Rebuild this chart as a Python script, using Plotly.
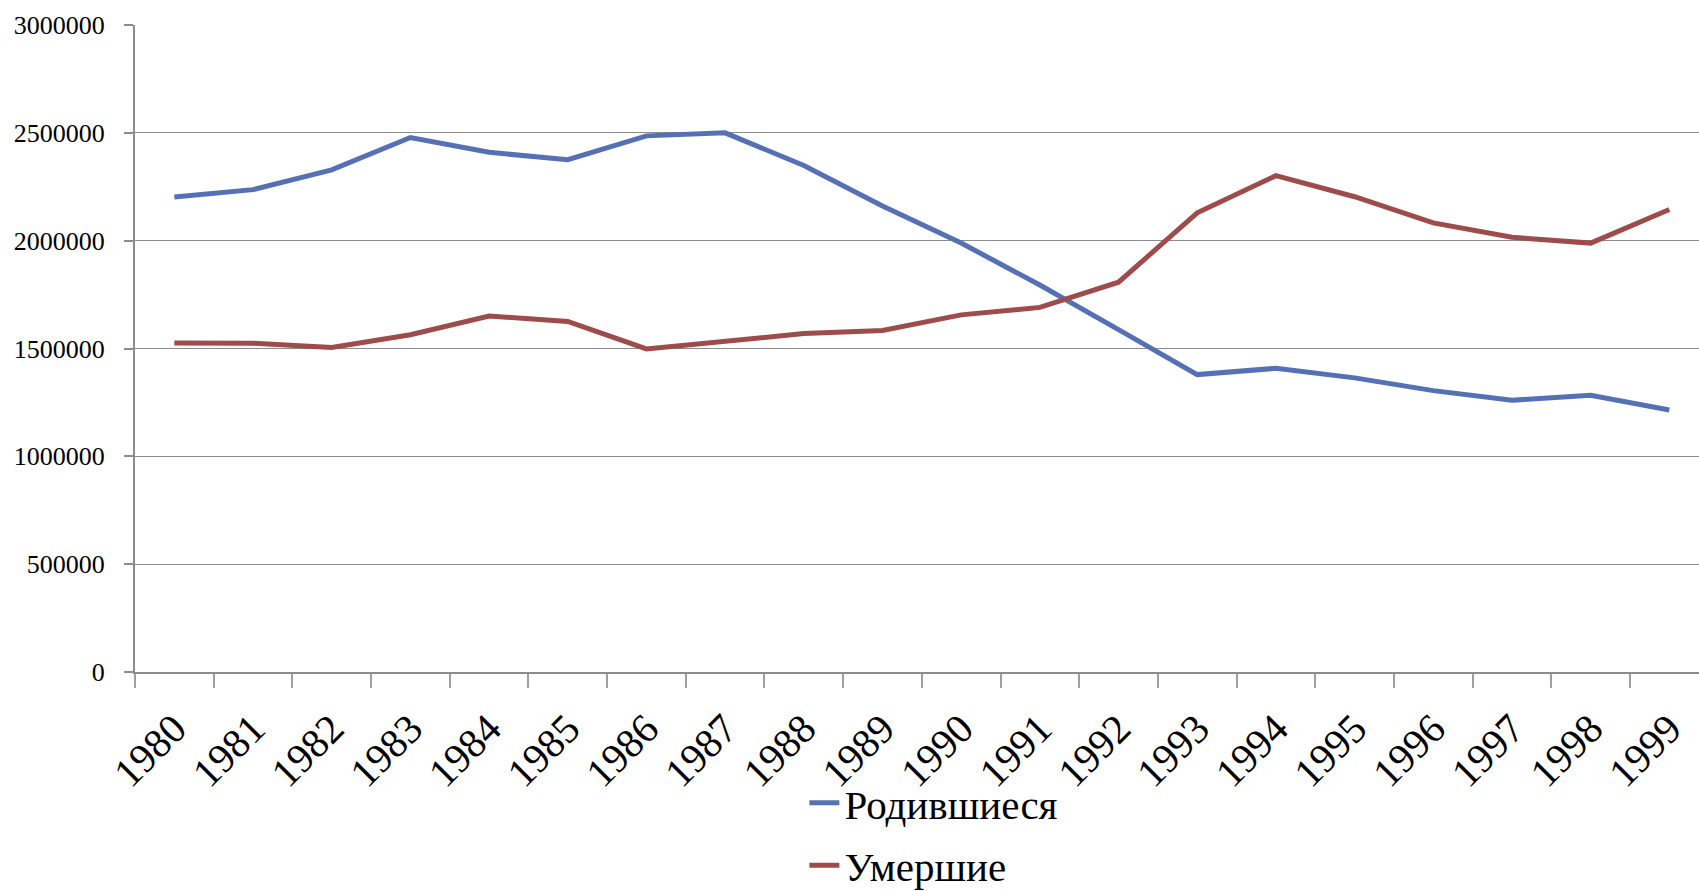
import plotly.graph_objects as go

years = [str(y) for y in range(1980, 2000)]
births = [2202779, 2236608, 2328044, 2478322, 2409614, 2375147, 2485915, 2499974,
          2348494, 2160559, 1988858, 1794626, 1587644, 1378983, 1408159, 1363806,
          1304638, 1259943, 1283292, 1214689]
deaths = [1525755, 1524286, 1504200, 1563995, 1650866, 1625266, 1497975, 1531585,
          1569112, 1583743, 1655993, 1690657, 1807441, 2129339, 2301366, 2203811,
          2082249, 2015779, 1988744, 2144316]
series_names = ["Родившиеся", "Умершие"]
y_ticks = [0, 500000, 1000000, 1500000, 2000000, 2500000, 3000000]

W, H = 1699, 891
L, R, T, B = 135, 0, 25, 219

fig = go.Figure()
fig.add_trace(go.Scatter(x=years, y=births, mode="lines", name=series_names[0],
                         line=dict(color="#5570B5", width=5), legendgroup="a"))
fig.add_trace(go.Scatter(x=years, y=deaths, mode="lines", name=series_names[1],
                         line=dict(color="#9E4B4B", width=5), legendgroup="b"))

grid = "#8C8C8C"
fig.update_layout(
    width=W, height=H,
    margin=dict(l=L, r=R, t=T, b=B, pad=0, autoexpand=False),
    paper_bgcolor="white", plot_bgcolor="white",
    showlegend=True,
    legend=dict(x=0.428, y=-0.151, xanchor="left", yanchor="top",
                font=dict(family="Liberation Serif", size=41, color="black"),
                tracegroupgap=6, bgcolor="rgba(0,0,0,0)"),
    xaxis=dict(type="category", range=[-0.5, 19.377], tickson="boundaries",
               automargin=False,
               showgrid=False, showline=True, linecolor=grid, linewidth=2,
               ticks="outside", ticklen=14, tickwidth=1.5, tickcolor="#A0A0A0",
               ticklabelstandoff=14,
               tickangle=-45, tickfont=dict(family="Liberation Serif", size=41, color="black")),
    yaxis=dict(range=[0, 3000000], tickvals=y_ticks, ticktext=[str(v) for v in y_ticks],
               automargin=False,
               showgrid=True, gridcolor=grid, gridwidth=1.2,
               showline=True, linecolor=grid, linewidth=2, zeroline=False,
               ticks="outside", ticklen=9, tickwidth=1.5, tickcolor=grid,
               ticklabelstandoff=14,
               tickfont=dict(family="Liberation Serif", size=26, color="black")),
)
fig.write_html("out.html", config={"displayModeBar": False},
               post_script="document.body.style.margin='0';")
